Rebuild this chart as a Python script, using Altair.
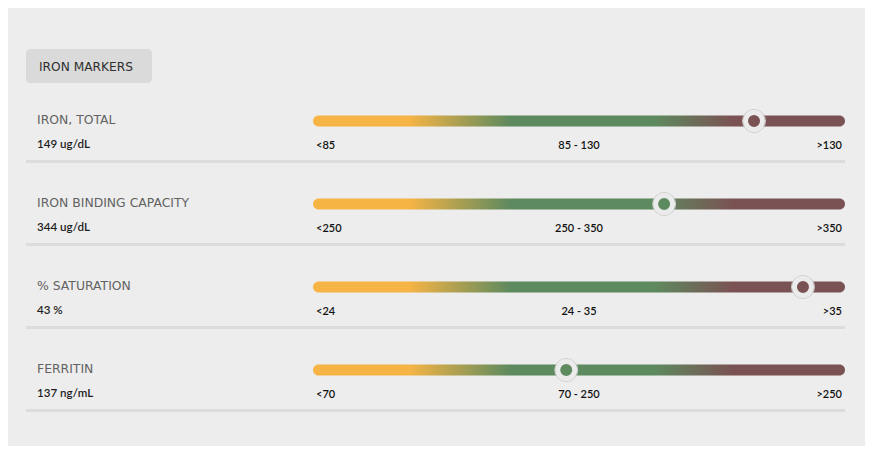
import altair as alt
import pandas as pd

# ---- data ----
markers = ["IRON, TOTAL", "IRON BINDING CAPACITY", "% SATURATION", "FERRITIN"]
values = ["149 ug/dL", "344 ug/dL", "43 %", "137 ng/mL"]
low_labels = ["<85", "<250", "<24", "<70"]
mid_labels = ["85 - 130", "250 - 350", "24 - 35", "70 - 250"]
high_labels = [">130", ">350", ">35", ">250"]
# relative position of the result along the reference track (0 = left end, 1 = right end)
positions = [0.829, 0.660, 0.921, 0.476]
title = "IRON MARKERS"

BG = "#ededed"
ORANGE, GREEN, MAROON = "#f6b445", "#5e8a5f", "#7a5253"
stop_pos = [0, 0.18, 0.37, 0.64, 0.79, 1]
stop_col = [ORANGE, ORANGE, GREEN, GREEN, MAROON, MAROON]
dot_pos = [0, 0.18, 0.37, 0.68, 0.79, 1]

df = pd.DataFrame({
    "row": list(range(len(markers))),
    "marker": markers,
    "value": values,
    "low": low_labels,
    "mid": mid_labels,
    "high": high_labels,
    "pos": positions,
    "start": [0.0] * len(markers),
    "end": [1.0] * len(markers),
    "midx": [0.5] * len(markers),
})

W, H = 857, 438
xscale = alt.Scale(domain=[-0.5733, 1.0376], nice=False, zero=False, padding=0)
yscale = alt.Scale(domain=[3.9157, -1.3614], nice=False, zero=False, padding=0)
FONT = "Lato"
CAPS = "DejaVu Sans"

base = alt.Chart(df)
y = alt.Y("row:Q", scale=yscale, axis=None)

track = base.mark_bar(
    orient="horizontal", size=11, cornerRadius=5.5,
    fill=alt.Gradient(gradient="linear", x1=0, x2=1, y1=0, y2=0,
                      stops=[alt.GradientStop(offset=o, color=c) for o, c in zip(stop_pos, stop_col)]),
).encode(x=alt.X("start:Q", scale=xscale, axis=None), x2="end:Q", y=y)

sep = base.mark_rule(color="#dcdcdc", strokeWidth=3, yOffset=40.5).encode(
    x=alt.value(18), x2=alt.value(837), y=y)

halo = base.mark_point(shape="circle", size=529, filled=False, stroke="#cccccc", strokeWidth=1, opacity=1).encode(
    x=alt.X("pos:Q", scale=xscale), y=y)

dot = base.mark_point(shape="circle", size=289, filled=True, stroke="#ebebeb", strokeWidth=5, opacity=1).encode(
    x=alt.X("pos:Q", scale=xscale), y=y,
    fill=alt.Fill("pos:Q", scale=alt.Scale(domain=dot_pos, range=stop_col, interpolate="rgb"), legend=None))

name_txt = base.mark_text(align="left", baseline="middle", dy=-1, font=CAPS, fontSize=12.4,
                          color="#626262").encode(
    x=alt.value(29), y=y, text="marker:N")
val_txt = base.mark_text(align="left", baseline="middle", dy=24, font=FONT, fontSize=11.6,
                         color="#1e1e1e", fontWeight=600).encode(
    x=alt.value(29), y=y, text="value:N")
low_txt = base.mark_text(align="left", baseline="middle", dy=25, dx=3, font=FONT, fontSize=11,
                         color="#111111", fontWeight=600).encode(
    x=alt.X("start:Q", scale=xscale), y=y, text="low:N")
mid_txt = base.mark_text(align="center", baseline="middle", dy=25, font=FONT, fontSize=11,
                         color="#111111", fontWeight=600).encode(
    x=alt.X("midx:Q", scale=xscale), y=y, text="mid:N")
high_txt = base.mark_text(align="right", baseline="middle", dy=25, dx=-3, font=FONT, fontSize=11,
                          color="#111111", fontWeight=600).encode(
    x=alt.X("end:Q", scale=xscale), y=y, text="high:N")

tdf = pd.DataFrame({"t": [title]})
title_box = alt.Chart(tdf).mark_rect(fill="#dadada", cornerRadius=4).encode(
    x=alt.value(18), x2=alt.value(144), y=alt.value(41), y2=alt.value(75))
title_txt = alt.Chart(tdf).mark_text(align="left", baseline="middle", font=CAPS, fontSize=12.2,
                                     color="#2e2e2e").encode(
    x=alt.value(31), y=alt.value(59), text="t:N")

chart = alt.layer(
    title_box, title_txt, sep, track, halo, dot, name_txt, val_txt, low_txt, mid_txt, high_txt
).properties(
    width=W, height=H, padding=0, background=BG,
    autosize=alt.AutoSizeParams(type="none"),
).configure_view(stroke=None)

chart.save("out.html", embed_options={"renderer": "svg", "actions": False})
